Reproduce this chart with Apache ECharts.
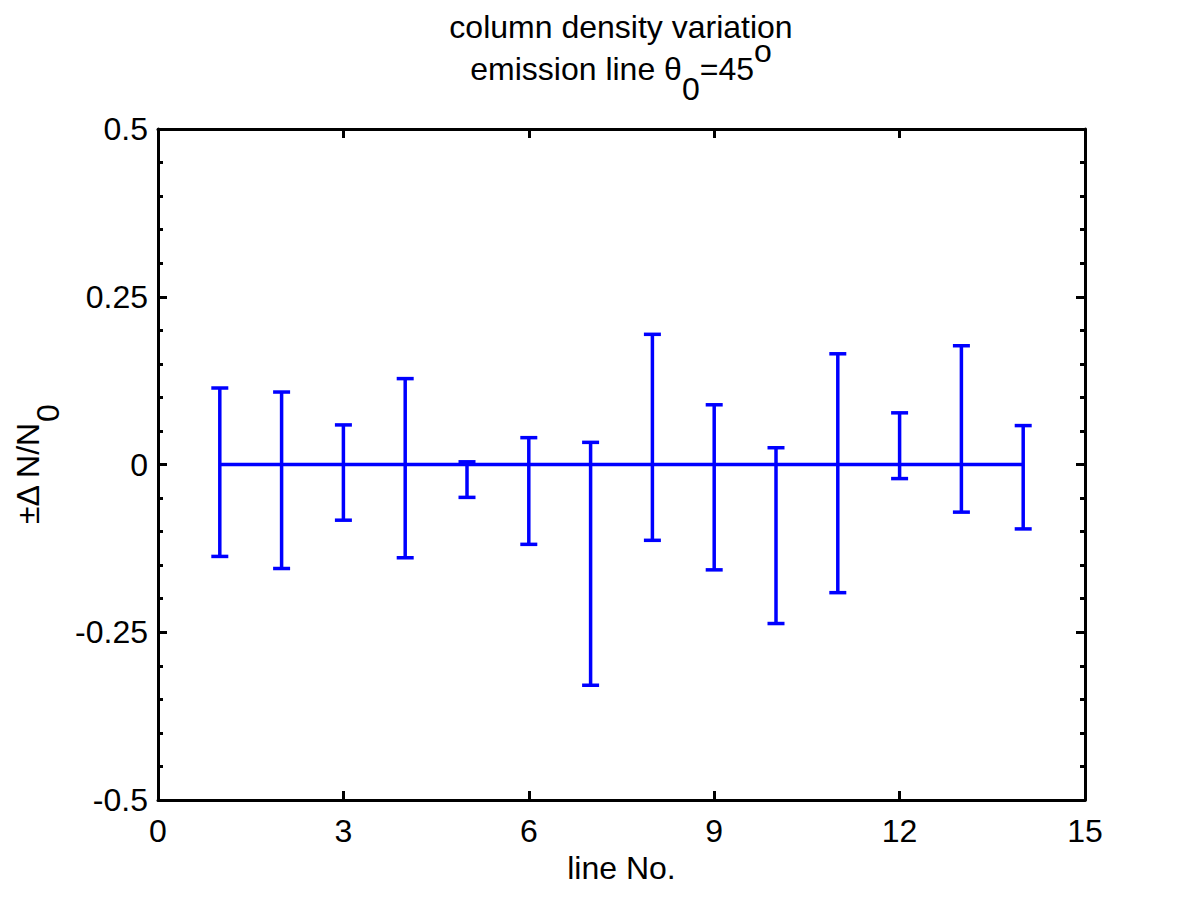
<!DOCTYPE html>
<html>
<head>
<meta charset="utf-8">
<script src="https://cdn.jsdelivr.net/npm/echarts@6/dist/echarts.min.js"></script>
<style>
html,body{margin:0;padding:0;background:#fff;}
#chart{width:1200px;height:900px;}
</style>
</head>
<body>
<div id="chart"></div>
<script>
// ---- data ----
const lineNo = [1, 2, 3, 4, 5, 6, 7, 8, 9, 10, 11, 12, 13, 14];
const centerValue = [0, 0, 0, 0, 0, 0, 0, 0, 0, 0, 0, 0, 0, 0];
const upperError = [0.114, 0.108, 0.059, 0.128, 0.004, 0.040, 0.033, 0.194, 0.089, 0.025, 0.165, 0.077, 0.177, 0.058];
const lowerError = [-0.137, -0.155, -0.083, -0.139, -0.049, -0.119, -0.329, -0.113, -0.157, -0.237, -0.191, -0.021, -0.071, -0.096];
const xTicks = [0, 3, 6, 9, 12, 15];
const yTicks = [-0.5, -0.25, 0, 0.25, 0.5];

const FONT = "'Liberation Sans', Arial, Helvetica, sans-serif";
const BLUE = '#0000ff';

const chart = echarts.init(document.getElementById('chart'), null, {renderer: 'svg'});

const lineData = lineNo.map((x, i) => [x, centerValue[i]]);
const errData = lineNo.map((x, i) => [x, lowerError[i], upperError[i]]);

function renderErr(params, api) {
  const x = api.value(0);
  const pLo = api.coord([x, api.value(1)]);
  const pHi = api.coord([x, api.value(2)]);
  const hw = 8.5;
  const style = {stroke: BLUE, lineWidth: 3.5, fill: null};
  return {
    type: 'group',
    children: [
      {type: 'line', shape: {x1: pHi[0], y1: pHi[1], x2: pLo[0], y2: pLo[1]}, style: style},
      {type: 'line', shape: {x1: pHi[0] - hw, y1: pHi[1], x2: pHi[0] + hw, y2: pHi[1]}, style: style},
      {type: 'line', shape: {x1: pLo[0] - hw, y1: pLo[1], x2: pLo[0] + hw, y2: pLo[1]}, style: style}
    ]
  };
}

const axisLineStyle = {lineStyle: {color: '#000', width: 3}};
const xMin = xTicks[0], xMax = xTicks[xTicks.length - 1], xInt = xTicks[1] - xTicks[0];
const yMin = yTicks[0], yMax = yTicks[yTicks.length - 1], yInt = yTicks[1] - yTicks[0];

const option = {
  backgroundColor: '#fff',
  animation: false,
  title: {
    left: 621,
    top: 6,
    textAlign: 'center',
    padding: 0,
    text: 'column density variation\nemission line θ{sub|0}{n|=45}{sup|o}',
    textStyle: {
      fontFamily: FONT, fontSize: 32, fontWeight: 'normal', color: '#000', lineHeight: 42,
      rich: {
        n: {fontFamily: FONT, fontSize: 32, color: '#000', lineHeight: 42},
        sub: {fontFamily: FONT, fontSize: 32, color: '#000', lineHeight: 42, padding: [40, 0, 0, 0]},
        sup: {fontFamily: FONT, fontSize: 32, color: '#000', lineHeight: 42, padding: [0, 0, 36, 0]}
      }
    }
  },
  grid: {left: 158, right: 115, top: 129, bottom: 100, containLabel: false, outerBoundsMode: 'none'},
  xAxis: [{
    type: 'value', min: xMin, max: xMax, interval: xInt, position: 'bottom',
    name: 'line No.', nameLocation: 'middle', nameGap: 52,
    nameTextStyle: {fontFamily: FONT, fontSize: 32, color: '#000'},
    axisLine: Object.assign({onZero: false}, axisLineStyle),
    axisTick: {show: true, inside: true, length: 9, lineStyle: {color: '#000', width: 3}},
    axisLabel: {fontFamily: FONT, fontSize: 32, color: '#000', margin: 15},
    splitLine: {show: false}
  }, {
    type: 'value', min: xMin, max: xMax, interval: xInt, position: 'top',
    axisLine: Object.assign({onZero: false}, axisLineStyle),
    axisTick: {show: true, inside: true, length: 9, lineStyle: {color: '#000', width: 3}},
    axisLabel: {show: false},
    splitLine: {show: false}
  }],
  yAxis: [{
    type: 'value', min: yMin, max: yMax, interval: yInt, position: 'left',
    name: '±Δ N/N{sub|0}', nameLocation: 'middle', nameGap: 105, nameRotate: 90,
    nameTextStyle: {
      fontFamily: FONT, fontSize: 32, color: '#000', lineHeight: 40,
      rich: {sub: {fontFamily: FONT, fontSize: 32, color: '#000', lineHeight: 40, padding: [40, 0, 0, 0]}}
    },
    axisLine: Object.assign({onZero: false}, axisLineStyle),
    axisTick: {show: true, inside: true, length: 9, lineStyle: {color: '#000', width: 3}},
    minorTick: {show: true, splitNumber: 5, length: 5, lineStyle: {color: '#000', width: 3}},
    axisLabel: {fontFamily: FONT, fontSize: 32, color: '#000', margin: 10},
    splitLine: {show: false}
  }, {
    type: 'value', min: yMin, max: yMax, interval: yInt, position: 'right',
    axisLine: Object.assign({onZero: false}, axisLineStyle),
    axisTick: {show: true, inside: true, length: 9, lineStyle: {color: '#000', width: 3}},
    minorTick: {show: true, splitNumber: 5, length: 5, lineStyle: {color: '#000', width: 3}},
    axisLabel: {show: false},
    splitLine: {show: false}
  }],
  series: [{
    type: 'line',
    data: lineData,
    symbol: 'none',
    lineStyle: {color: BLUE, width: 3.5},
    z: 3
  }, {
    type: 'custom',
    data: errData,
    renderItem: renderErr,
    encode: {x: 0, y: [1, 2]},
    z: 4
  }]
};
chart.setOption(option);
</script>
</body>
</html>
